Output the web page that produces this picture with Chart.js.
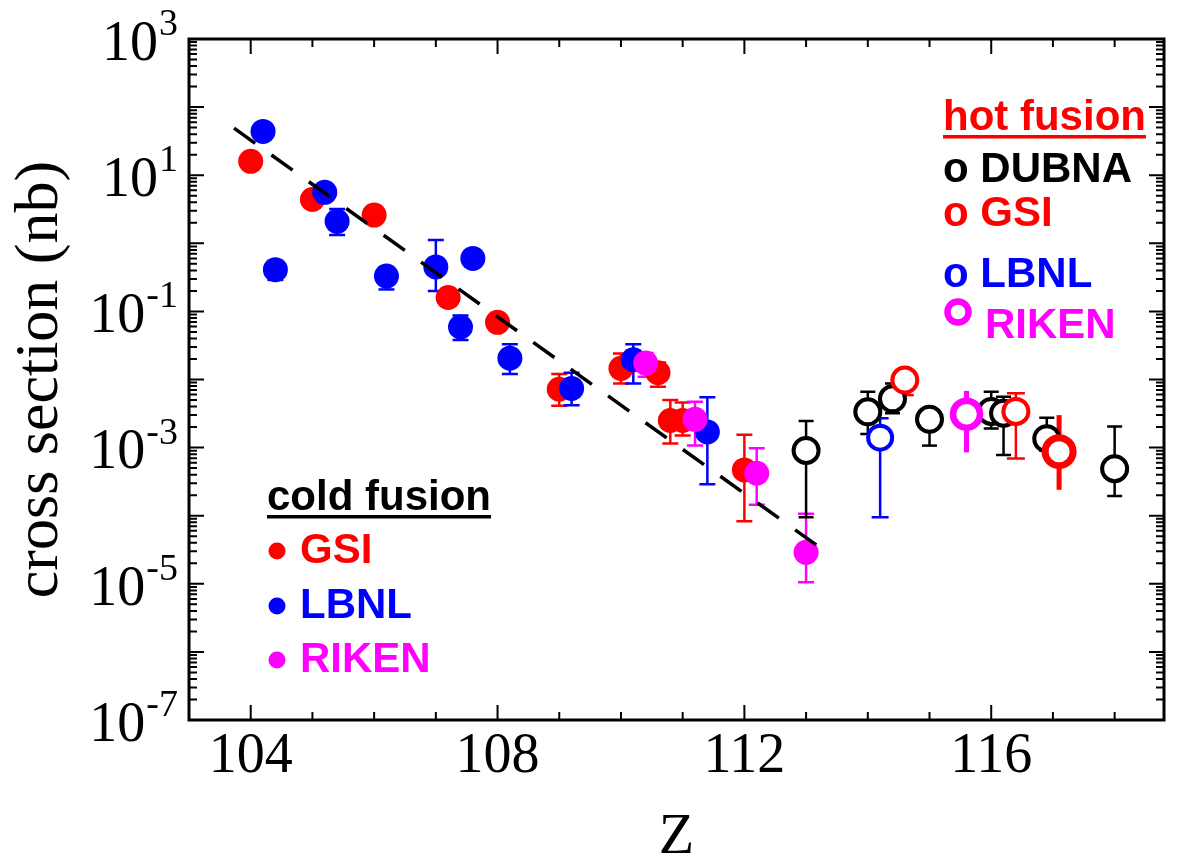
<!DOCTYPE html>
<html><head><meta charset="utf-8">
<script src="https://cdn.jsdelivr.net/npm/chart.js@4/dist/chart.umd.min.js"></script>
<style>html,body{margin:0;padding:0;background:#fff;}</style>
</head><body>
<canvas id="c" width="1185" height="861" style="display:block;width:1185px;height:861px"></canvas>
<script>
// ---------- data ----------
const coldGSI_Z  = [104.0, 105.0, 106.0, 107.2, 108.0, 109.0, 110.0, 110.6, 110.8, 111.0, 112.0];
const coldGSI_xs = [16, 4.4, 2.6, 0.16, 0.069, 0.0072, 0.0146, 0.0126, 0.0025, 0.0025, 0.00047];
const coldGSI_hi = [null, null, null, null, null, 0.012, 0.024, 0.0178, 0.005, 0.0046, 0.00155];
const coldGSI_lo = [null, null, null, null, null, 0.0041, 0.0087, 0.0078, 0.00115, 0.0015, 0.000083];

const coldLBNL_Z  = [104.2, 104.4, 105.2, 105.4, 106.2, 107.0, 107.4, 107.6, 108.2, 109.2, 110.2, 111.4];
const coldLBNL_xs = [44, 0.41, 5.6, 2.1, 0.33, 0.45, 0.059, 0.6, 0.0205, 0.0074, 0.0195, 0.0017];
const coldLBNL_hi = [null, null, null, 3.2, null, 1.12, 0.087, null, 0.033, 0.0126, 0.033, 0.0055];
const coldLBNL_lo = [null, 0.29, null, 1.32, 0.21, 0.2, 0.038, null, 0.012, 0.0042, 0.0087, 0.00029];

const coldRIKEN_Z  = [110.4, 111.2, 112.2, 113.0];
const coldRIKEN_xs = [0.0174, 0.0026, 0.00042, 0.000029];
const coldRIKEN_hi = [0.0245, 0.0047, 0.00098, 0.000107];
const coldRIKEN_lo = [0.011, 0.00107, 0.000145, 0.0000105];

const hotDUBNA_Z  = [113.0, 114.0, 114.4, 115.0, 116.0, 116.2, 116.9, 118.0];
const hotDUBNA_xs = [0.00091, 0.00335, 0.0052, 0.0026, 0.0034, 0.0032, 0.00135, 0.00049];
const hotDUBNA_hi = [0.00245, 0.0066, 0.0087, null, 0.0066, 0.0056, 0.00275, 0.00204];
const hotDUBNA_lo = [0.000095, 0.00158, 0.0032, 0.00107, 0.0019, 0.00078, 0.0009, 0.000195];

const hotGSI_Z  = [114.6, 116.4];
const hotGSI_xs = [0.0098, 0.0034];
const hotGSI_hi = [null, 0.0063];
const hotGSI_lo = [0.0059, 0.00069];

const hotGSI2_Z  = [117.1];
const hotGSI2_xs = [0.00087];
const hotGSI2_hi = [0.003];
const hotGSI2_lo = [0.00024];

const hotLBNL_Z  = [114.2];
const hotLBNL_xs = [0.0014];
const hotLBNL_hi = [0.0027];
const hotLBNL_lo = [0.000095];

const hotRIKEN_Z  = [115.6];
const hotRIKEN_xs = [0.0031];
const hotRIKEN_hi = [0.0068];
const hotRIKEN_lo = [0.00085];

const fit_Z  = [103.73, 113.32];
const fit_xs = [49, 0.0000295];

const xTickValues = [104,105,106,107,108,109,110,111,112,113,114,115,116,117,118];
const xLabelValues = [104, 108, 112, 116];
const yLabelExponents = [3, 1, -1, -3, -5, -7];
const yTickValues = (() => { const t = []; for (let e = -7; e <= 2; e++) for (let m = 1; m <= 9; m++) t.push(+(m + 'e' + e)); t.push(1000); return t; })();

// ---------- helpers ----------
const pts = (xs, ys) => xs.map((x, i) => ({x: x, y: ys[i]}));
const RED = '#ff0000', BLUE = '#0000ff', MAG = '#ff00ff', BLK = '#000000';

function filled(label, Z, s, hi, lo, color, order) {
  return { label, data: pts(Z, s), errHi: hi, errLo: lo, errColor: color, errWidth: 2.5, capHalf: 8,
    backgroundColor: color, borderColor: color, borderWidth: 0, pointRadius: 12.5, pointHoverRadius: 12.5,
    showLine: false, order };
}
function open(label, Z, s, hi, lo, color, r, bw, ew, cap, order) {
  return { label, data: pts(Z, s), errHi: hi, errLo: lo, errColor: color, errWidth: ew, capHalf: cap,
    backgroundColor: '#ffffff', borderColor: color, borderWidth: bw, pointRadius: r, pointHoverRadius: r,
    showLine: false, order };
}

const datasets = [
  { label: 'fit', type: 'line', data: pts(fit_Z, fit_xs), borderColor: BLK, borderWidth: 3.5,
    borderDash: [26, 20], pointRadius: 0, fill: false, order: 0 },
  open('hot RIKEN', hotRIKEN_Z, hotRIKEN_xs, hotRIKEN_hi, hotRIKEN_lo, MAG, 13.5, 6.5, 5, 0, 1),
  open('hot GSI (thick)', hotGSI2_Z, hotGSI2_xs, hotGSI2_hi, hotGSI2_lo, RED, 14, 7, 5, 0, 2),
  open('hot LBNL', hotLBNL_Z, hotLBNL_xs, hotLBNL_hi, hotLBNL_lo, BLUE, 12, 4, 2.5, 8.5, 3),
  open('hot GSI', hotGSI_Z, hotGSI_xs, hotGSI_hi, hotGSI_lo, RED, 12.5, 4, 2.5, 9, 4),
  open('hot DUBNA', hotDUBNA_Z, hotDUBNA_xs, hotDUBNA_hi, hotDUBNA_lo, BLK, 12.5, 4, 2.5, 7.5, 5),
  filled('cold RIKEN', coldRIKEN_Z, coldRIKEN_xs, coldRIKEN_hi, coldRIKEN_lo, MAG, 6),
  filled('cold LBNL', coldLBNL_Z, coldLBNL_xs, coldLBNL_hi, coldLBNL_lo, BLUE, 7),
  filled('cold GSI', coldGSI_Z, coldGSI_xs, coldGSI_hi, coldGSI_lo, RED, 8),
];

// ---------- plugins ----------
const errorBars = {
  id: 'errorBars',
  beforeDatasetsDraw(chart) {
    const ctx = chart.ctx, xs = chart.scales.x, ys = chart.scales.y;
    const metas = chart.getSortedVisibleDatasetMetas().slice().reverse();
    ctx.save();
    metas.forEach(meta => {
      const ds = chart.data.datasets[meta.index];
      if (!ds.errHi) return;
      ctx.strokeStyle = ds.errColor; ctx.lineWidth = ds.errWidth; ctx.lineCap = 'butt';
      ds.data.forEach((p, j) => {
        const x = xs.getPixelForValue(p.x), y = ys.getPixelForValue(p.y);
        const hi = ds.errHi[j], lo = ds.errLo[j];
        if (hi == null && lo == null) return;
        const yh = hi == null ? y : ys.getPixelForValue(hi);
        const yl = lo == null ? y : ys.getPixelForValue(lo);
        ctx.beginPath(); ctx.moveTo(x, yh); ctx.lineTo(x, yl); ctx.stroke();
        if (ds.capHalf > 0) {
          ctx.beginPath();
          if (hi != null) { ctx.moveTo(x - ds.capHalf, yh); ctx.lineTo(x + ds.capHalf, yh); }
          if (lo != null) { ctx.moveTo(x - ds.capHalf, yl); ctx.lineTo(x + ds.capHalf, yl); }
          ctx.stroke();
        }
      });
    });
    ctx.restore();
  }
};

const frameTicks = {
  id: 'frameTicks',
  afterDatasetsDraw(chart) {
    const ctx = chart.ctx, a = chart.chartArea, xs = chart.scales.x, ys = chart.scales.y;
    ctx.save();
    ctx.strokeStyle = '#000';
    ctx.lineWidth = 2;
    ctx.beginPath();
    xs.ticks.forEach(t => {
      const x = xs.getPixelForValue(t.value);
      const L = (xLabelValues.includes(t.value)) ? 15 : 8;
      ctx.moveTo(x, a.bottom); ctx.lineTo(x, a.bottom - L);
      ctx.moveTo(x, a.top); ctx.lineTo(x, a.top + L);
    });
    ys.ticks.forEach(t => {
      const y = ys.getPixelForValue(t.value);
      const m = Math.round(t.value / Math.pow(10, Math.floor(Math.log10(t.value) + 1e-9)));
      const L = (m === 1) ? 15 : 8;
      ctx.moveTo(a.left, y); ctx.lineTo(a.left + L, y);
      ctx.moveTo(a.right, y); ctx.lineTo(a.right - L, y);
    });
    ctx.stroke();
    ctx.lineWidth = 3;
    ctx.strokeRect(a.left, a.top, a.right - a.left, a.bottom - a.top);
    ctx.restore();
  },
  afterDraw(chart) {
    const ctx = chart.ctx, ys = chart.scales.y;
    ctx.save();
    ctx.fillStyle = '#000';
    ctx.textBaseline = 'middle';
    const rightEdge = 178;
    yLabelExponents.forEach(e => {
      const y = ys.getPixelForValue(Math.pow(10, e));
      const sup = String(e);
      ctx.font = '38px "Liberation Serif"';
      const sw = ctx.measureText(sup).width;
      ctx.textAlign = 'left';
      ctx.fillText(sup, rightEdge - sw, y - 14);
      ctx.font = '56px "Liberation Serif"';
      ctx.textAlign = 'right';
      ctx.fillText('10', rightEdge - sw - 1, y + 6);
    });
    ctx.restore();
  }
};

const annotations = {
  id: 'annotations',
  afterDraw(chart) {
    const ctx = chart.ctx;
    ctx.save();
    ctx.textBaseline = 'alphabetic'; ctx.textAlign = 'left';
    ctx.font = 'bold 42px "Liberation Sans"';
    const hot = [
      {t: 'hot fusion', c: RED, y: 130, under: true},
      {t: 'o DUBNA', c: BLK, y: 182},
      {t: 'o GSI', c: RED, y: 226},
      {t: 'o LBNL', c: BLUE, y: 287},
    ];
    hot.forEach(h => {
      ctx.fillStyle = h.c; ctx.fillText(h.t, 943, h.y);
      if (h.under) { const w = ctx.measureText(h.t).width; ctx.fillRect(943, h.y + 5, w, 3.5); }
    });
    ctx.strokeStyle = MAG; ctx.lineWidth = 6.5;
    ctx.beginPath(); ctx.arc(958, 312, 10.5, 0, Math.PI * 2); ctx.stroke();
    ctx.fillStyle = MAG; ctx.fillText('RIKEN', 985, 338);
    ctx.fillStyle = BLK; ctx.fillText('cold fusion', 267, 510);
    ctx.fillRect(267, 515, ctx.measureText('cold fusion').width, 3.5);
    const cold = [{t: 'GSI', c: RED, y: 563}, {t: 'LBNL', c: BLUE, y: 618}, {t: 'RIKEN', c: MAG, y: 672}];
    cold.forEach(h => {
      ctx.fillStyle = h.c;
      ctx.beginPath(); ctx.arc(277, h.y - 12, 8.5, 0, Math.PI * 2); ctx.fill();
      ctx.fillText(h.t, 300, h.y);
    });
    ctx.restore();
  }
};

new Chart(document.getElementById('c'), {
  type: 'scatter',
  data: { datasets },
  options: {
    responsive: false, animation: false, devicePixelRatio: 1,
    layout: { padding: { left: 0, right: 8, top: 39, bottom: 0 } },
    plugins: { legend: { display: false }, tooltip: { enabled: false } },
    scales: {
      x: {
        type: 'linear', min: 103, max: 118.8, position: 'bottom',
        grid: { display: false, drawTicks: false }, border: { display: false },
        afterBuildTicks: s => { s.ticks = xTickValues.map(v => ({ value: v })); },
        ticks: { autoSkip: false, maxRotation: 0, padding: 4, color: '#000',
          font: { family: 'Liberation Serif', size: 56 },
          callback: v => xLabelValues.includes(v) ? String(v) : '' },
        title: { display: true, text: 'Z', color: '#000',
          font: { family: 'Liberation Serif', size: 58, lineHeight: 0.8 }, padding: { top: 0, bottom: 0 } },
        afterFit: s => { s.height = 141; s.paddingLeft = 0; s.paddingRight = 0; }
      },
      y: {
        type: 'logarithmic', min: 1e-7, max: 1e3, position: 'left',
        grid: { display: false, drawTicks: false }, border: { display: false },
        afterBuildTicks: s => { s.ticks = yTickValues.map(v => ({ value: v })); },
        ticks: { display: false },
        title: { display: true, text: 'cross section (nb)', color: '#000',
          font: { family: 'Liberation Serif', size: 62, lineHeight: 1 }, padding: { top: 10, bottom: 0 } },
        afterFit: s => { s.width = 189; s.paddingTop = 0; s.paddingBottom = 0; }
      }
    }
  },
  plugins: [errorBars, frameTicks, annotations]
});
</script>
</body></html>
